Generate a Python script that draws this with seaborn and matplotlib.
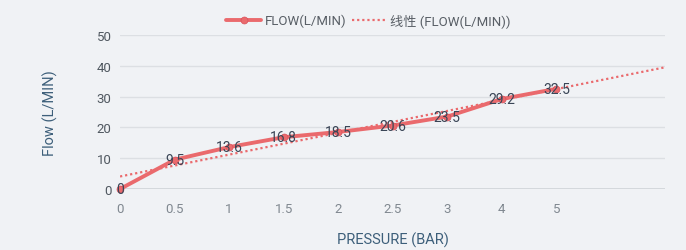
import numpy as np
import pandas as pd
import matplotlib
matplotlib.use("Agg")
import matplotlib.pyplot as plt
import seaborn as sns

categories = ["0", "0.5", "1", "1.5", "2", "2.5", "3", "4", "5"]
flow = [0, 9.5, 13.6, 16.8, 18.5, 20.6, 23.5, 29.2, 32.5]
y_ticks = [0, 10, 20, 30, 40, 50]
series_name = "FLOW(L/MIN)"
trend_name = "线性 (FLOW(L/MIN))"
x_title = "PRESSURE (BAR)"
y_title = "Flow (L/MIN)"

sns.set_theme(style="white")
plt.rcParams["font.family"] = ["Roboto", "Noto Sans CJK SC", "DejaVu Sans"]

bg = "#f0f2f5"
line_c = "#ea6a6d"
tick_c = "#808890"
title_c = "#3d5f7a"
lab_c = "#3a4556"

fig = plt.figure(figsize=(6.86, 2.51), dpi=100, facecolor=bg)
ax = fig.add_axes([0.175, 0.243, 0.795, 0.614], facecolor=bg)

pos = np.arange(len(categories))
df = pd.DataFrame({"pos": pos, "flow": flow})

# linear trend over the category index, forecast to index 10
coef = np.polyfit(pos, flow, 1)
tx = np.array([0, 10.0])
tdf = pd.DataFrame({"pos": tx, "flow": np.polyval(coef, tx)})

for yv in y_ticks[1:]:
    ax.axhline(yv, color="#dcdfe3", lw=1, zorder=0)
ax.axhline(0, color="#cfd3d8", lw=1.2, zorder=0)

sns.lineplot(data=tdf, x="pos", y="flow", ax=ax, color=line_c, lw=1.6,
             linestyle=(0, (1, 1.3)), label=trend_name, zorder=2)
sns.lineplot(data=df, x="pos", y="flow", ax=ax, color=line_c, lw=2.8,
             marker="o", markersize=5, markeredgecolor="#d9505a",
             markeredgewidth=0.5, label=series_name, zorder=3, clip_on=False)

for p, v in zip(pos, flow):
    ax.text(p, v, f"{v:g}", ha="center", va="center", fontsize=10,
            color=lab_c, zorder=4)

ax.set_xlim(0, 10)
ax.set_ylim(0, 50)
ax.set_xticks(pos)
ax.set_xticklabels(categories)
ax.set_yticks(y_ticks)
ax.tick_params(axis="both", length=0, labelsize=9.5, colors=tick_c, pad=9)
ax.tick_params(axis="y", pad=6, labelcolor="#505860")
for s in ax.spines.values():
    s.set_visible(False)

ax.set_xlabel(x_title, fontsize=10.5, color=title_c, labelpad=12)
ax.set_ylabel(y_title, fontsize=10.5, color=title_c, labelpad=28)

h, l = ax.get_legend_handles_labels()
leg = fig.legend([h[1], h[0]], [l[1], l[0]], loc="center",
                 bbox_to_anchor=(0.537, 0.915), ncol=2, frameon=False,
                 fontsize=9.5, handlelength=2.6, columnspacing=0.4,
                 handletextpad=0.3)
for t in leg.get_texts():
    t.set_color("#595f66")
if ax.get_legend():
    ax.get_legend().remove()

fig.savefig("out.png", dpi=100, facecolor=bg)
